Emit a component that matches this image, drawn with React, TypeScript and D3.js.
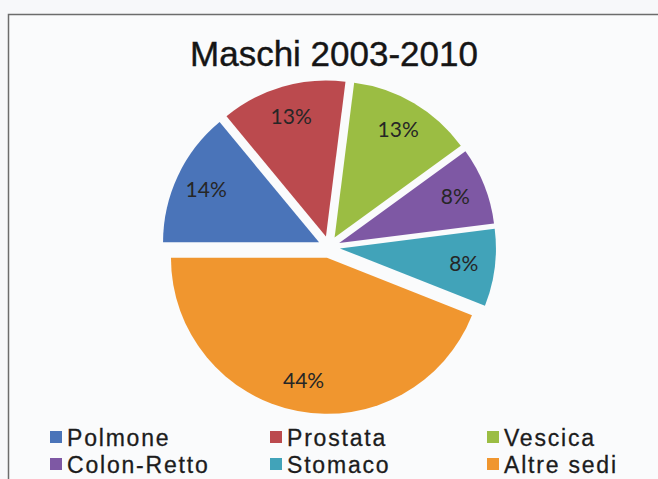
import React from "react";
import * as d3 from "d3";

// chart data
const categories = ["Polmone", "Prostata", "Vescica", "Colon-Retto", "Stomaco", "Altre sedi"];
const values = [14, 13, 13, 8, 8, 44];
const colors = ["#4a74b9", "#bb4a4e", "#9bbd43", "#7e58a4", "#41a3b9", "#f0962f"];
const title = "Maschi 2003-2010";

const width = 658;
const height = 479;

// pie geometry
const cx = 329;
const cy = 247;
const radius = 156;
const explode = 11;
const labelRadius = radius * 0.8;

// legend layout
const legendCols = [50, 270, 487];
const legendRows = [446, 473];

type Slice = { name: string; value: number; color: string };

export default function App() {
    const data: Slice[] = categories.map((name, i) => ({ name, value: values[i], color: colors[i] }));

    const pie = d3.pie<Slice>()
        .sort(null)
        .value(d => d.value)
        .startAngle(-Math.PI / 2)
        .endAngle(Math.PI * 1.5);

    const arc = d3.arc<d3.PieArcDatum<Slice>>()
        .innerRadius(0)
        .outerRadius(radius);

    const arcs = pie(data);
    const total = d3.sum(values);

    return (
        <svg width={width} height={height} style={{ position: "absolute", left: 0, top: 0, background: "#f7f8fa" }}>
            <rect x={0} y={0} width={width} height={height} fill="#f7f8fa" />
            {/* chart frame, cut off at the right and bottom */}
            <rect x={8.5} y={14.5} width={720} height={520} fill="#fafbfc" stroke="#6c6c6c" strokeWidth={1.5} />

            <text x={334} y={66} textAnchor="middle" fontFamily="Liberation Sans, Arial, sans-serif"
                fontSize={35} fill="#151515" stroke="#151515" strokeWidth={0.4}>{title}</text>

            <g transform={`translate(${cx}, ${cy})`}>
                {arcs.map((a, i) => {
                    const mid = (a.startAngle + a.endAngle) / 2;
                    const ox = Math.sin(mid) * explode;
                    const oy = -Math.cos(mid) * explode;
                    return (
                        <g key={i} transform={`translate(${ox}, ${oy})`}>
                            <path d={arc(a) || ""} fill={a.data.color} />
                            <text x={Math.sin(mid) * labelRadius} y={-Math.cos(mid) * labelRadius} dy="0.35em"
                                textAnchor="middle" fontFamily="Lato, Open Sans, sans-serif" fontSize={21} fill="#262626">
                                {Math.round((a.data.value / total) * 100)}%
                            </text>
                        </g>
                    );
                })}
            </g>

            {/* legend */}
            {data.map((d, i) => {
                const x = legendCols[i % 3];
                const y = legendRows[Math.floor(i / 3)];
                return (
                    <g key={d.name}>
                        <rect x={x} y={y - 15} width={12} height={12} fill={d.color} />
                        <text x={x + 17} y={y} fontFamily="Liberation Sans, Arial, sans-serif" fontSize={23}
                            letterSpacing={1.8} fill="#1c1c1c" stroke="#1c1c1c" strokeWidth={0.3}>{d.name}</text>
                    </g>
                );
            })}
        </svg>
    );
}
